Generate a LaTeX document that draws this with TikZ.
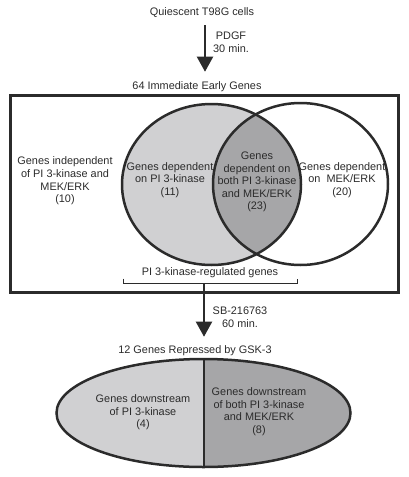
\documentclass[tikz,border=0pt]{standalone}
\usepackage{fontspec}
\setmainfont{Liberation Sans}
\usetikzlibrary{arrows.meta}
\definecolor{ink}{HTML}{2B2B2B}
\definecolor{lightg}{HTML}{D0D0D2}
\definecolor{darkg}{HTML}{A6A6A8}
\begin{document}
\begin{tikzpicture}[x=1pt,y=-1pt,
  txt/.style={font=\fontsize{10.9}{12.6}\selectfont, text=ink, align=center, inner sep=0pt},
  outl/.style={draw=ink, line width=2.5pt},
  arr/.style={draw=ink, line width=2pt, -{Triangle[length=15pt,width=16pt]}}]
\useasboundingbox (0,0) rectangle (409,477);

% Top
\node[txt] (q) at (202,13) {Quiescent T98G cells};
\node[txt] (pdgf) at (231,42) {PDGF\\30 min.};
\node[txt] (ieg) at (197,87) {64 Immediate Early Genes};
\draw[arr, shorten <=7pt, shorten >=10pt] ([xshift=3pt]q.south) -- ([xshift=8pt]ieg.north);

% Venn
\fill[lightg] (211.5,184.5) ellipse [x radius=89.5, y radius=80.5];
\begin{scope}
  \clip (211.5,184.5) ellipse [x radius=89.5, y radius=80.5];
  \fill[darkg] (300.5,184) ellipse [x radius=87.5, y radius=81];
\end{scope}
\draw[outl] (211.5,184.5) ellipse [x radius=89.5, y radius=80.5];
\draw[outl] (300.5,184) ellipse [x radius=87.5, y radius=81];
\draw[draw=ink, line width=3pt] (10.5,95) rectangle (398.5,292);

\node[txt] (indep) at (65,181) {Genes independent\\of PI 3-kinase and\\MEK/ERK\\(10)};
\node[txt] (pi) at (170,180) {Genes dependent\\on PI 3-kinase\\(11)};
\node[txt] (both) at (257,182) {Genes\\dependent on\\both PI 3-kinase\\and MEK/ERK\\(23)};
\node[txt] (mek) at (342,180) {Genes dependent\\on\ \ MEK/ERK\\(20)};

% Bracket
\node[txt] (reg) at (210,273) {PI 3-kinase-regulated genes};
\draw[draw=ink, line width=1pt] (123,278.5) -- (123,283) -- (297,283) -- (297,278.5);
\coordinate (brk) at (204,283);

% Second arrow
\node[txt] (sb) at (240,317) {SB-216763\\60 min.};
\node[txt] (rep) at (195,351) {12 Genes Repressed by GSK-3};
\draw[arr, shorten >=9pt] (brk) -- (brk |- rep.north);

% Bottom ellipse
\begin{scope}
  \clip (203.5,413) ellipse [x radius=147, y radius=54];
  \fill[lightg] (50,355) rectangle (204,472);
  \fill[darkg] (204,355) rectangle (355,472);
\end{scope}
\draw[draw=ink, line width=2.5pt] (204,359) -- (204,467);
\draw[outl] (203.5,413) ellipse [x radius=147, y radius=54];

\node[txt] (dpi) at (143,412.5) {Genes downstream\\of PI 3-kinase\\(4)};
\node[txt] (dboth) at (259,411.5) {Genes downstream\\of both PI 3-kinase\\and MEK/ERK\\(8)};
\end{tikzpicture}
\end{document}
